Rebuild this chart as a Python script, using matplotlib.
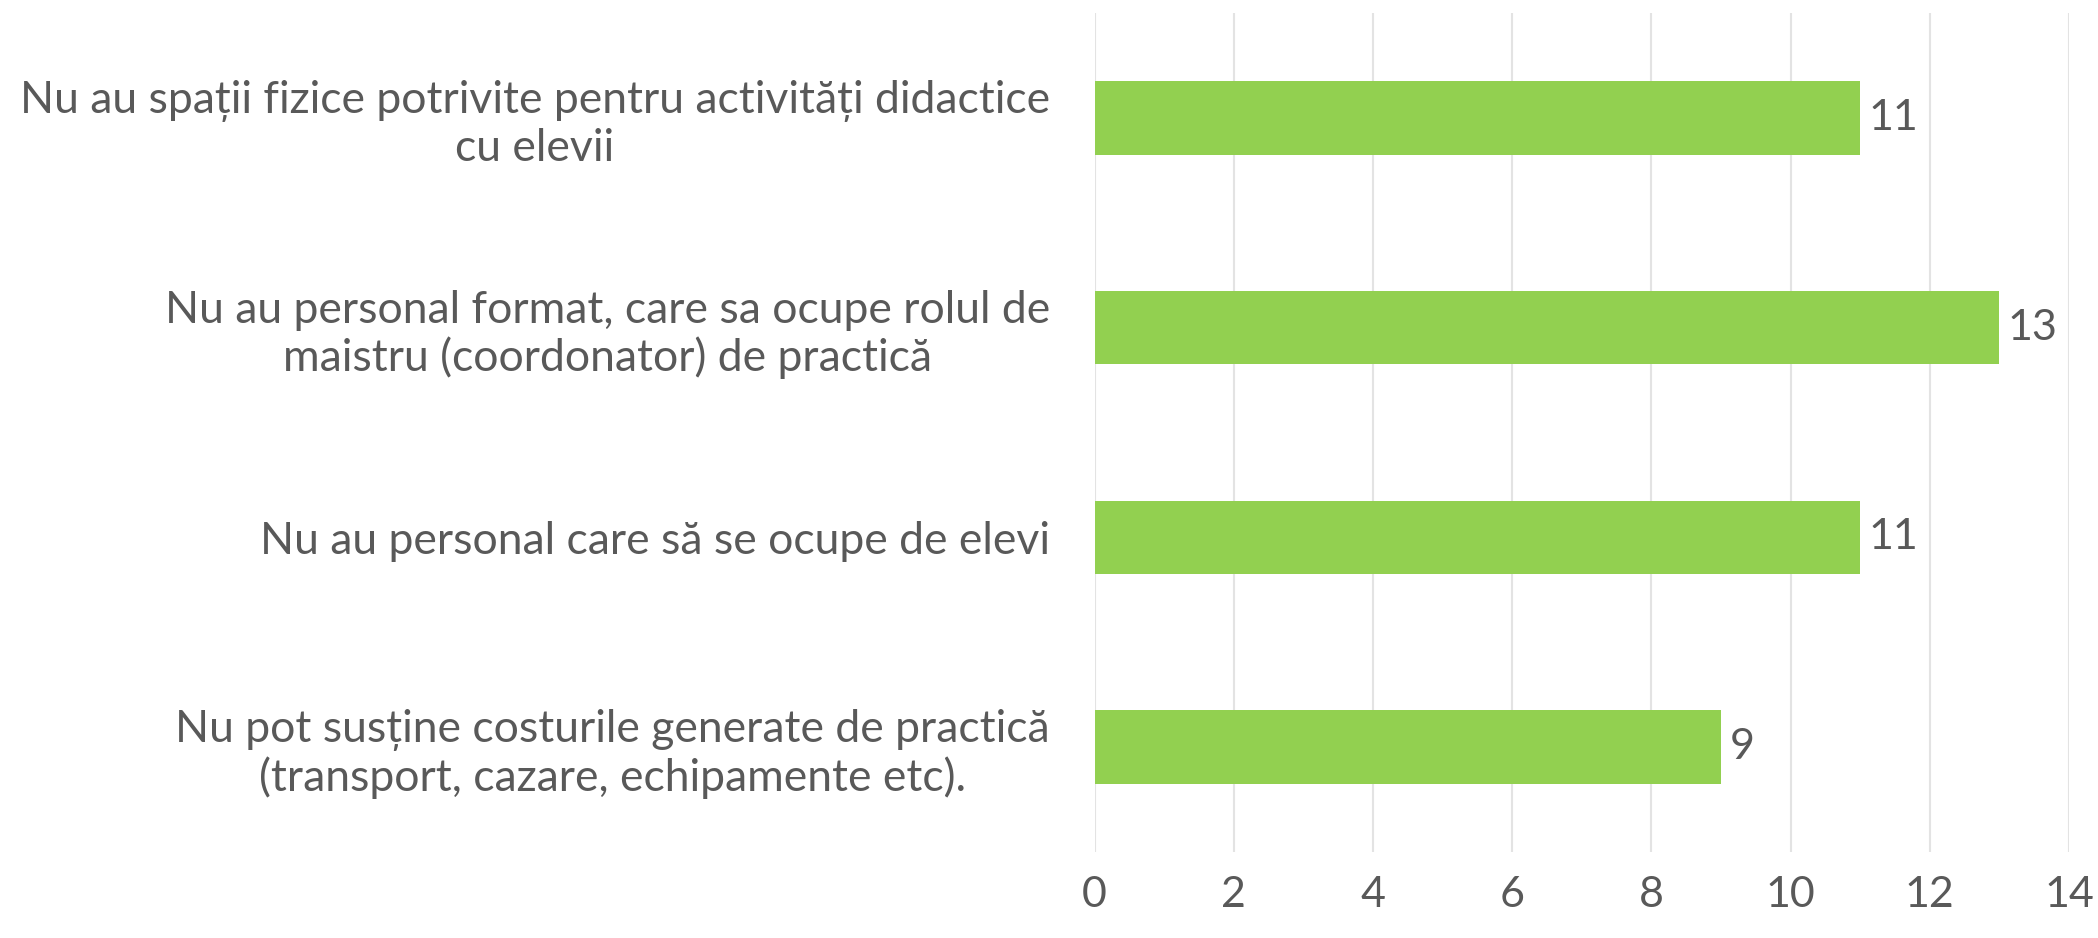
import matplotlib.pyplot as plt

# Categories (top to bottom as in the chart) and counts
categories = [
    "Nu au spații fizice potrivite pentru activități didactice\ncu elevii",
    "Nu au personal format, care sa ocupe rolul de\nmaistru (coordonator) de practică",
    "Nu au personal care să se ocupe de elevi",
    "Nu pot susține costurile generate de practică\n(transport, cazare, echipamente etc).",
]
values = [11, 13, 11, 9]
x_ticks = [0, 2, 4, 6, 8, 10, 12, 14]

text_color = "#595959"
bar_color = "#92D050"
grid_color = "#E3E3E3"

plt.rcParams['font.family'] = ['Lato', 'DejaVu Sans']

fig = plt.figure(figsize=(20.98, 9.38), dpi=100)
ax = fig.add_axes([0.5217, 0.0917, 0.4645, 0.8944])

ypos = list(range(len(categories)))[::-1]
bars = ax.barh(ypos, values, height=0.35, color=bar_color, zorder=3)

for b, v in zip(bars, values):
    ax.text(b.get_width() + 0.12, b.get_y() + b.get_height() / 2, str(v),
            va='center', ha='left', fontsize=31, color=text_color)

ax.set_xlim(0, 14)
ax.set_ylim(-0.5, 3.5)
ax.set_xticks(x_ticks)
ax.set_yticks(ypos)
ax.set_yticklabels(categories, fontsize=32, color=text_color)
for lbl in ax.get_yticklabels():
    lbl.set_multialignment('center')
    lbl.set_linespacing(1.17)
ax.tick_params(axis='y', length=0, pad=32)
ax.tick_params(axis='x', length=0, pad=17, labelsize=31, labelcolor=text_color)

ax.grid(axis='x', color=grid_color, linewidth=1.5, zorder=0)
for s in ax.spines.values():
    s.set_visible(False)

fig.savefig("out.png", dpi=100)
